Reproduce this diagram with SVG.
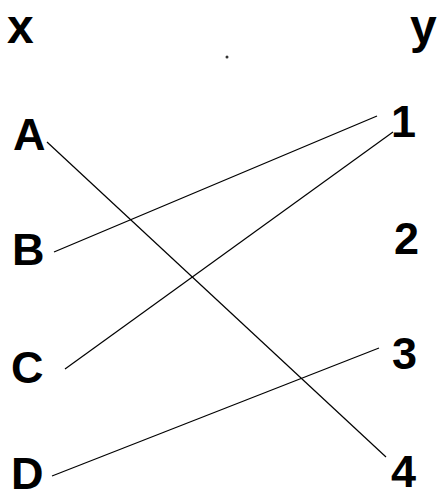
<svg xmlns="http://www.w3.org/2000/svg" width="437" height="499" viewBox="0 0 437 499">
<style>
text{font-family:"Liberation Sans",Arial,sans-serif;font-weight:bold;fill:#000}
.h{font-size:48px}
.n{font-size:45px}
.c line{stroke:#000;stroke-width:1.2;fill:none}
</style>
<rect width="437" height="499" fill="#fff"/>
<g id="header-x"><text class="h" x="7" y="43">x</text></g>
<g id="header-y"><text class="h" x="410" y="43">y</text></g>
<circle id="dot" cx="227" cy="57" r="1.5" fill="#333"/>
<g id="node-A"><text class="n" x="13" y="150">A</text></g>
<g id="node-B"><text class="n" x="12" y="265">B</text></g>
<g id="node-C"><text class="n" x="11" y="383">C</text></g>
<g id="node-D"><text class="n" x="11" y="489">D</text></g>
<g id="node-1"><text class="n" x="391" y="137">1</text></g>
<g id="node-2"><text class="n" x="394" y="254">2</text></g>
<g id="node-3"><text class="n" x="392" y="369">3</text></g>
<g id="node-4"><text class="n" x="391" y="487">4</text></g>
<g id="connectors" class="c">
<line x1="47" y1="142" x2="386" y2="457"/>
<line x1="54" y1="252" x2="377" y2="116"/>
<line x1="65" y1="369" x2="393" y2="132"/>
<line x1="52" y1="476" x2="379" y2="348"/>
</g>
</svg>
